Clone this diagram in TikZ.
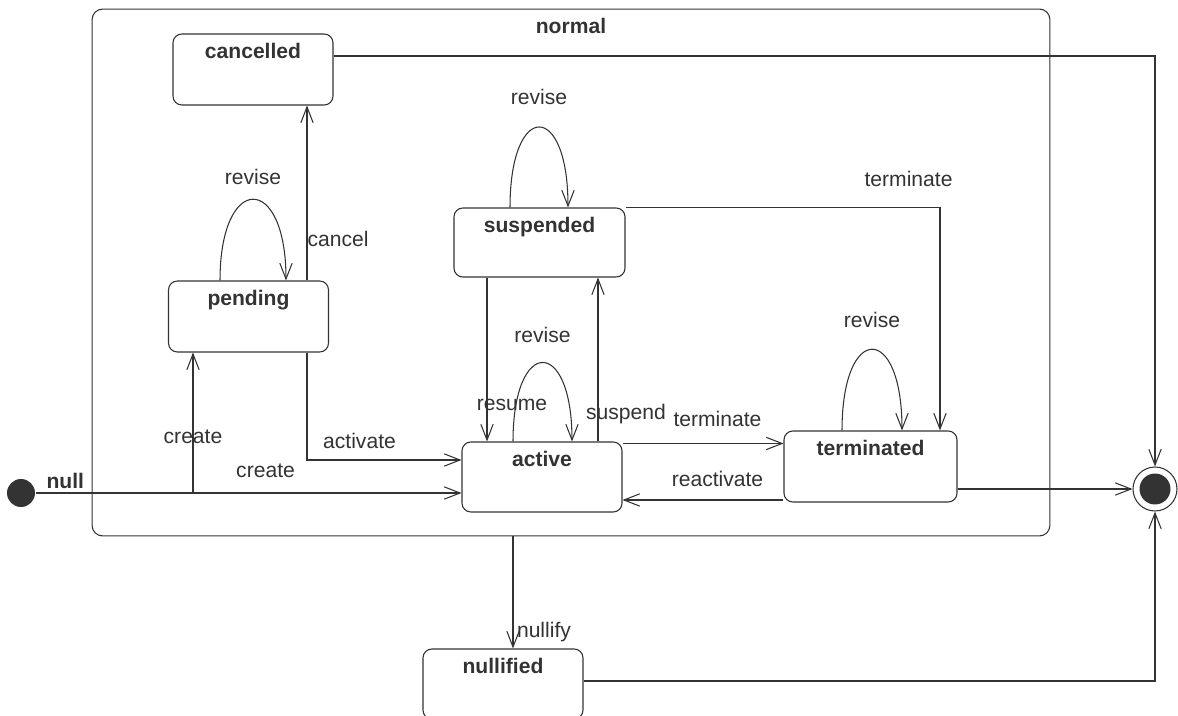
\documentclass[tikz,border=0pt]{standalone}
\usepackage{fontspec}
\setmainfont{Liberation Sans}
\usetikzlibrary{arrows.meta,positioning}
\definecolor{ink}{HTML}{333333}

\begin{document}
\begin{tikzpicture}[x=0.02cm,y=-0.02cm,color=ink,line width=0.6pt,
    >={Straight Barb[length=9pt,width=7pt]},
    font=\fontsize{12}{14}\selectfont,
    stbox/.style={draw,rounded corners=5pt,minimum width=3.2cm,minimum height=1.42cm,inner sep=0pt},
    stname/.style={font=\fontsize{12}{14}\selectfont\bfseries,anchor=north,yshift=-2pt},
    lbl/.style={inner sep=2pt}]
\useasboundingbox[fill=white] (0,0) rectangle (1178,716);

% superstate
\node[draw,rounded corners=6pt,minimum width=19.16cm,minimum height=10.54cm,
  label={[stname]north:normal}] (normal) at (571,272.5) {};

% states
\node[stbox,label={[stname]north:cancelled}] (cancelled) at (253,69.5) {};
\node[stbox,label={[stname]north:pending}] (pending) at (248.5,316.5) {};
\node[stbox,minimum width=3.42cm,minimum height=1.38cm,label={[stname]north:suspended}] (suspended) at (539.5,242.5) {};
\node[stbox,minimum height=1.4cm,label={[stname]north:active}] (active) at (542,477) {};
\node[stbox,minimum width=3.46cm,label={[stname]north:terminated}] (terminated) at (870.5,466.5) {};
\node[stbox,minimum height=1.4cm,label={[stname]north:nullified}] (nullified) at (503,684) {};

\node[circle,fill,minimum size=0.56cm,inner sep=0pt] (init) at (21,493) {};
\node[circle,draw,minimum size=0.88cm,inner sep=0pt] (final) at (1155,489) {};
\node[circle,fill,minimum size=0.62cm,inner sep=0pt] at (final) {};

% transitions
\coordinate (fork) at (193,493);
\draw[->] (init) -- node[pos=0.07,above,lbl,font=\fontsize{12}{14}\selectfont\bfseries] {null}
  node[pos=0.54,above=5pt] {create} (init -| active.west);
\draw[->] (fork) -- node[pos=0.4] {create} (fork |- pending.south);
\draw[->] ([xshift=1.17cm]pending.south) |- node[pos=0.67,above=3pt] {activate} ([yshift=0.34cm]active.west);
\draw[->] ([xshift=1.17cm]pending.north) -- node[pos=0.24,right,inner sep=0pt] {cancel}
  ([xshift=1.17cm]pending.north |- cancelled.south);
\draw[->] ([xshift=-1.05cm]suspended.south) -- node[pos=0.78,xshift=0.5cm] {resume}
  ([xshift=-1.05cm]suspended.south |- active.north);
\draw[->] ([xshift=1.12cm]active.north) -- node[pos=0.17,xshift=0.56cm] {suspend}
  ([xshift=1.12cm]active.north |- suspended.south);
\draw[->] (suspended.north east) -| node[pos=0.45,above=8pt] {terminate} ([xshift=1.39cm]terminated.north);
\draw[->] ([yshift=-0.04cm]active.north east) -- node[pos=0.59,above=6pt] {terminate}
  ([yshift=-0.04cm]active.north east -| terminated.west);
\draw[->] ([yshift=-0.67cm]terminated.west) -- node[pos=0.41,above=4pt] {reactivate}
  ([yshift=-0.67cm]terminated.west -| active.east);
\draw[->] (terminated.east |- final) -- (final);
\draw[->] ([yshift=0.27cm]cancelled.east) -| (final.north);
\draw[->] ([xshift=0.2cm]nullified.north |- normal.south) -- node[pos=0.85,right,lbl] {nullify}
  ([xshift=0.2cm]nullified.north);
\draw[->] ([yshift=0.06cm]nullified.east) -| (final.south);

% self loops
\draw[->] ([xshift=-0.57cm]pending.north) .. controls +(0,-108) and +(0,-108) ..
  node[above=5pt] {revise} ([xshift=0.75cm]pending.north);
\draw[->] ([xshift=-0.59cm]suspended.north) .. controls +(0,-107) and +(0,-107) ..
  node[above=9pt] {revise} ([xshift=0.57cm]suspended.north);
\draw[->] ([xshift=-0.58cm]active.north) .. controls +(0,-105) and +(0,-105) ..
  node[above=8pt] {revise} ([xshift=0.6cm]active.north);
\draw[->] ([xshift=-0.57cm]terminated.north) .. controls +(0,-108) and +(0,-108) ..
  node[above=9pt] {revise} ([xshift=0.63cm]terminated.north);
\end{tikzpicture}
\end{document}
